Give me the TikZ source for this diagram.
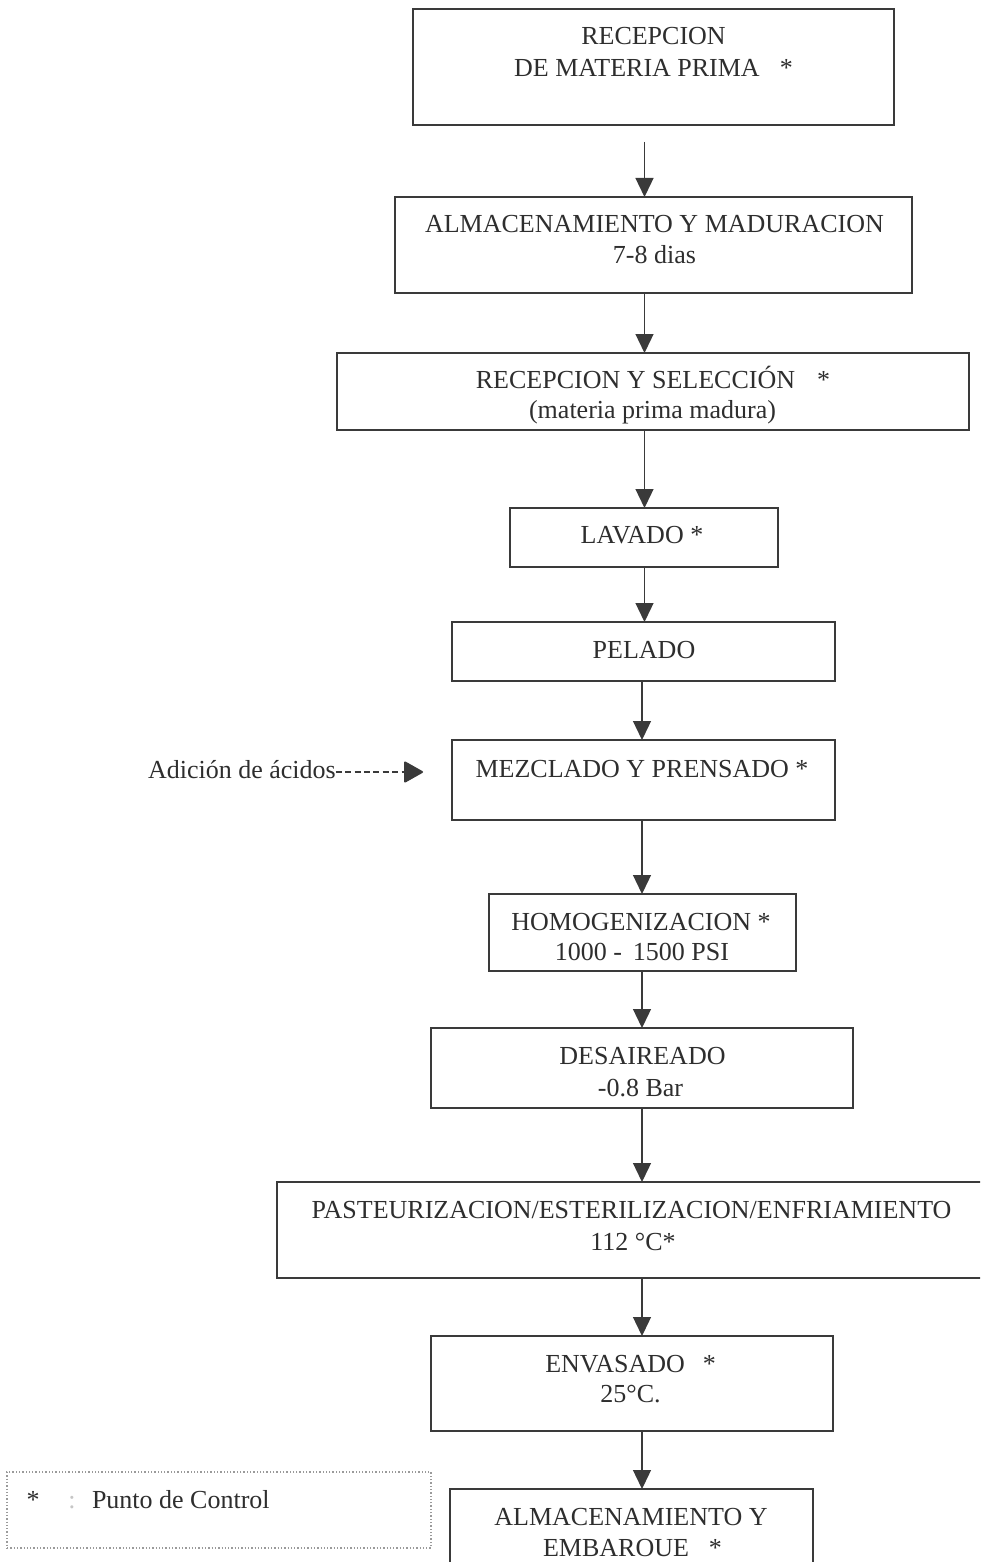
\documentclass[tikz,border=0pt]{standalone}
\usepackage{fontspec}
\setmainfont{Liberation Serif}
\usetikzlibrary{arrows.meta}
\definecolor{ink}{HTML}{3A3A3A}
\definecolor{txt}{HTML}{2E2E2E}
\definecolor{dotc}{HTML}{9A9A9A}
\begin{document}
\begin{tikzpicture}[x=1pt,y=-1pt,
  procbox/.style={draw=ink,line width=1.4pt,inner sep=0pt,outer sep=0pt,rectangle},
  lbl/.style={inner sep=0pt,outer sep=0pt,anchor=base,text=txt,font=\fontsize{26}{31}\selectfont},
  flow/.style={draw=ink,line width=1.3pt,-{Triangle[width=18pt,length=19pt]}},
  addarrow/.style={draw=ink,line width=2pt,dash pattern=on 6pt off 3.4pt,-{Triangle[width=22pt,length=20pt,round]}},
  legendbox/.style={draw=dotc,dotted,line width=1.3pt,inner sep=0pt,outer sep=0pt,rectangle}
]
\useasboundingbox[fill=white] (0,0) rectangle (980,1562);
\clip (0,0) rectangle (980,1562);
\coordinate (ax) at (644.5,0);
\coordinate (bx) at (642,0);

% process boxes
\node[procbox,minimum width=481pt,minimum height=116pt] (b1) at (653.5,67) {};
\node[procbox,minimum width=517pt,minimum height=96pt] (b2) at (653.5,245) {};
\node[procbox,minimum width=632pt,minimum height=77pt] (b3) at (653,391.5) {};
\node[procbox,minimum width=268pt,minimum height=59pt] (b4) at (644,537.5) {};
\node[procbox,minimum width=383pt,minimum height=59pt] (b5) at (643.5,651.5) {};
\node[procbox,minimum width=383pt,minimum height=80pt] (b6) at (643.5,780) {};
\node[procbox,minimum width=307pt,minimum height=77pt] (b7) at (642.5,932.5) {};
\node[procbox,minimum width=422pt,minimum height=80pt] (b8) at (642,1068) {};
\node[procbox,minimum width=708pt,minimum height=96pt] (b9) at (631,1230) {};
\node[procbox,minimum width=402pt,minimum height=95pt] (b10) at (632,1383.5) {};
\node[procbox,minimum width=363pt,minimum height=111pt] (b11) at (631.5,1544.5) {};

% texts
\node[lbl] (t1a) at (653.5,45) {RECEPCION};
\node[lbl] (t1b) at (653.5,77) {DE MATERIA PRIMA\hspace{20pt}*};
\node[lbl] (t2a) at (654.5,233) {ALMACENAMIENTO Y MADURACION};
\node[lbl] (t2b) at (654.5,263) {7-8 dias};
\node[lbl] (t3a) at (653,388) {RECEPCION Y SELECCIÓN\hspace{22pt}*};
\node[lbl] (t3b) at (652.5,418) {(materia prima madura)};
\node[lbl] (t4) at (642,543) {LAVADO *};
\node[lbl] (t5) at (644,658) {PELADO};
\node[lbl] (t6) at (642,777) {MEZCLADO Y PRENSADO *};
\node[lbl] (t7a) at (641,930) {HOMOGENIZACION *};
\node[lbl] (t7b) at (642,960) {1000 - \,1500 PSI};
\node[lbl] (t8a) at (642.5,1064) {DESAIREADO};
\node[lbl] (t8b) at (640.5,1096) {-0.8 Bar};
\node[lbl] (t9a) at (631.5,1218) {PASTEURIZACION/ESTERILIZACION/ENFRIAMIENTO};
\node[lbl] (t9b) at (633,1250) {112 °C*};
\node[lbl] (t10a) at (630.6,1372) {ENVASADO\hspace{18pt}*};
\node[lbl] (t10b) at (630.6,1402) {25°C.};
\node[lbl] (t11a) at (631,1525) {ALMACENAMIENTO Y};
\node[lbl] (t11b) at (632.5,1556) {EMBAROUE\hspace{20pt}*};

% flow arrows
\draw[flow,shorten <=17pt] (b1.south -| ax) -- (b2.north -| ax);
\draw[flow] (b2.south -| ax) -- (b3.north -| ax);
\draw[flow] (b3.south -| ax) -- (b4.north -| ax);
\draw[flow] (b4.south -| ax) -- (b5.north -| ax);
\draw[flow] (b5.south -| bx) -- (b6.north -| bx);
\draw[flow] (b6.south -| bx) -- (b7.north -| bx);
\draw[flow] (b7.south -| bx) -- (b8.north -| bx);
\draw[flow] (b8.south -| bx) -- (b9.north -| bx);
\draw[flow] (b9.south -| bx) -- (b10.north -| bx);
\draw[flow] (b10.south -| bx) -- (b11.north -| bx);

% acid addition
\node[lbl,anchor=base west] (acid) at (148,778) {Adición de ácidos};
\coordinate (acidtip) at (423,772);
\draw[addarrow] (acid.east |- acidtip) -- (acidtip);

% legend
\node[legendbox,minimum width=424pt,minimum height=76pt] (legend) at (219,1510) {};
\node[lbl] (lstar) at (33,1508) {*};
\node[lbl,text=gray!45] (lcolon) at (72,1508) {:};
\node[lbl,anchor=base west] (ltext) at (92,1508) {Punto de Control};
\end{tikzpicture}
\end{document}
